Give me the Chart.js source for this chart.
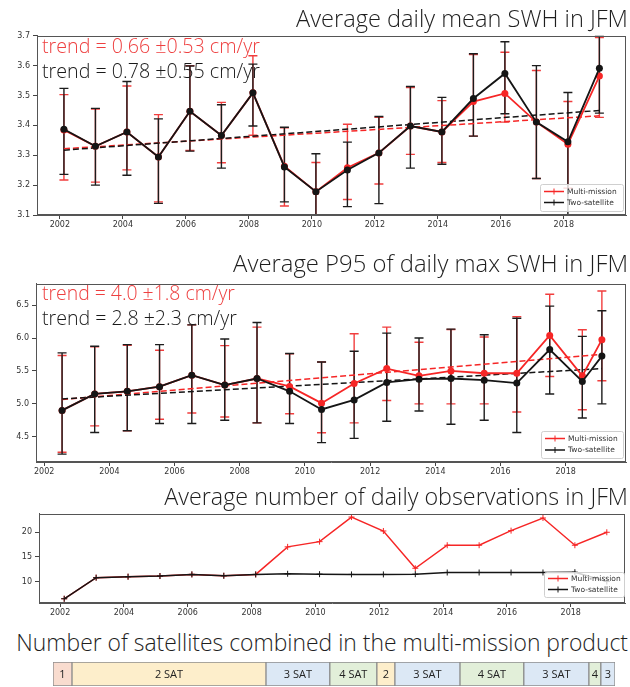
<!DOCTYPE html>
<html>
<head>
<meta charset="utf-8">
<script src="https://cdn.jsdelivr.net/npm/chart.js@4.4.1/dist/chart.umd.min.js"></script>
<style>
  html, body { margin: 0; padding: 0; background: #fff; }
  body { position: relative; width: 630px; height: 687px; overflow: hidden; }
  canvas { position: absolute; left: 0; }
  .txt { position: absolute; white-space: nowrap; line-height: 1; font-family: "Open Sans", sans-serif; font-weight: 300; }
</style>
</head>
<body>
<canvas id="swhChart" width="630" height="212" style="top:28px"></canvas>
<canvas id="p95Chart" width="630" height="205" style="top:276px"></canvas>
<canvas id="obsChart" width="630" height="112" style="top:506px"></canvas>
<canvas id="satChart" width="630" height="27" style="top:660px"></canvas>
<script>
// --- data: average daily mean SWH (m) ---
const swhYears = [2002.13, 2003.13, 2004.13, 2005.13, 2006.13, 2007.13, 2008.13, 2009.13, 2010.13, 2011.13, 2012.13, 2013.13, 2014.13, 2015.13, 2016.13, 2017.13, 2018.13, 2019.13];
const swhMulti   = [3.385, 3.330, 3.378, 3.294, 3.447, 3.366, 3.509, 3.263, 3.178, 3.258, 3.308, 3.398, 3.378, 3.480, 3.507, 3.411, 3.337, 3.565];
const swhMultiHi = [3.503, 3.455, 3.532, 3.436, 3.600, 3.477, 3.633, 3.392, 3.276, 3.404, 3.427, 3.527, 3.483, 3.637, 3.645, 3.584, 3.480, 3.694];
const swhMultiLo = [3.217, 3.210, 3.251, 3.144, 3.316, 3.275, 3.367, 3.130, 3.080, 3.152, 3.204, 3.303, 3.276, 3.364, 3.411, 3.222, 3.190, 3.427];
const swhTwo     = [3.387, 3.330, 3.378, 3.294, 3.447, 3.366, 3.509, 3.261, 3.178, 3.251, 3.308, 3.398, 3.378, 3.490, 3.574, 3.411, 3.345, 3.591];
const swhTwoHi   = [3.524, 3.457, 3.547, 3.422, 3.599, 3.469, 3.605, 3.394, 3.305, 3.344, 3.430, 3.530, 3.494, 3.640, 3.680, 3.600, 3.510, 3.700];
const swhTwoLo   = [3.236, 3.200, 3.233, 3.139, 3.314, 3.257, 3.398, 3.144, 3.050, 3.128, 3.138, 3.257, 3.270, 3.364, 3.439, 3.222, 3.080, 3.441];
const swhTrendX     = [2002.13, 2019.13];
const swhTrendMulti = [3.322, 3.432];
const swhTrendTwo   = [3.317, 3.450];
const swhYTicks = [3.1, 3.2, 3.3, 3.4, 3.5, 3.6, 3.7];

// --- data: average P95 of daily max SWH (m) ---
const p95Years = [2002.55, 2003.55, 2004.55, 2005.54, 2006.53, 2007.54, 2008.53, 2009.53, 2010.51, 2011.51, 2012.51, 2013.50, 2014.48, 2015.50, 2016.50, 2017.51, 2018.51, 2019.11];
const p95Multi   = [4.900, 5.150, 5.190, 5.260, 5.435, 5.285, 5.385, 5.265, 5.010, 5.310, 5.535, 5.425, 5.500, 5.465, 5.465, 6.040, 5.425, 5.975];
const p95MultiHi = [5.735, 5.865, 5.890, 5.815, 6.200, 5.885, 6.165, 5.760, 5.635, 6.065, 6.165, 5.935, 6.130, 6.015, 6.325, 6.665, 6.125, 6.715];
const p95MultiLo = [4.265, 4.665, 4.590, 4.765, 4.860, 4.800, 4.710, 4.850, 4.560, 4.710, 5.050, 5.000, 5.000, 5.000, 4.875, 5.415, 4.910, 5.350];
const p95Two     = [4.900, 5.150, 5.190, 5.260, 5.435, 5.285, 5.385, 5.190, 4.915, 5.060, 5.325, 5.375, 5.385, 5.360, 5.315, 5.825, 5.340, 5.725];
const p95TwoHi   = [5.775, 5.875, 5.900, 5.900, 6.200, 5.985, 6.235, 5.765, 5.635, 5.800, 6.075, 6.000, 6.135, 6.050, 6.300, 6.485, 6.025, 6.415];
const p95TwoLo   = [4.235, 4.565, 4.590, 4.700, 4.700, 4.750, 4.710, 4.700, 4.410, 4.475, 4.735, 4.890, 4.690, 4.750, 4.565, 5.150, 4.785, 5.000];
const p95TrendX     = [2002.55, 2019.11];
const p95TrendMulti = [5.065, 5.750];
const p95TrendTwo   = [5.075, 5.535];
const p95YTicks = [4.5, 5.0, 5.5, 6.0, 6.5];

// --- data: average number of daily observations ---
const obsYears = [2002.13, 2003.13, 2004.13, 2005.13, 2006.13, 2007.13, 2008.13, 2009.13, 2010.13, 2011.13, 2012.13, 2013.13, 2014.13, 2015.13, 2016.13, 2017.13, 2018.13, 2019.13];
const obsMulti = [6.51, 10.79, 10.99, 11.12, 11.45, 11.18, 11.45, 17.04, 18.10, 23.09, 20.26, 12.70, 17.37, 17.37, 20.33, 22.90, 17.37, 20.00];
const obsTwo   = [6.51, 10.79, 10.99, 11.12, 11.45, 11.18, 11.45, 11.58, 11.50, 11.45, 11.45, 11.50, 11.84, 11.84, 11.84, 11.84, 11.90, 10.00];
const obsYTicks = [10, 15, 20];

const yearTicks = [2002, 2004, 2006, 2008, 2010, 2012, 2014, 2016, 2018];

// --- data: satellites in the multi-mission product ---
const satLabels = ['1', '2 SAT', '3 SAT', '4 SAT', '2', '3 SAT', '4 SAT', '3 SAT', '4', '3'];
const satCount  = [1, 2, 3, 4, 2, 3, 4, 3, 4, 3];
const satStart  = [2002.00, 2002.59, 2008.61, 2010.59, 2012.05, 2012.61, 2014.63, 2016.61, 2018.63, 2019.00];
const satEnd    = [2002.59, 2008.61, 2010.59, 2012.05, 2012.61, 2014.63, 2016.61, 2018.63, 2019.00, 2019.44];

const RED = 'rgb(246,38,38)';
const BLACK = '#151515';
const satColors = { 1: '#f9dccf', 2: '#fdeecb', 3: '#dce8f5', 4: '#e2efd9' };

const xy = (xs, ys) => xs.map((x, i) => ({ x: x, y: ys[i] }));

function errorBars(sets) {
    return {
        id: 'errorBars',
        beforeDatasetsDraw(chart) {
            const { ctx, chartArea: a, scales: { x, y } } = chart;
            ctx.save();
            ctx.beginPath();
            ctx.rect(a.left, a.top, a.width, a.height);
            ctx.clip();
            sets.forEach(s => {
                ctx.strokeStyle = s.color;
                ctx.lineWidth = 1.4;
                s.xs.forEach((xv, i) => {
                    const px = x.getPixelForValue(xv);
                    const top = y.getPixelForValue(s.hi[i]);
                    const bot = y.getPixelForValue(s.lo[i]);
                    ctx.beginPath();
                    ctx.moveTo(px, top); ctx.lineTo(px, bot);
                    ctx.moveTo(px - 4.5, top); ctx.lineTo(px + 4.5, top);
                    ctx.moveTo(px - 4.5, bot); ctx.lineTo(px + 4.5, bot);
                    ctx.stroke();
                });
            });
            ctx.restore();
        }
    };
}

const frame = {
    id: 'frame',
    afterDatasetsDraw(chart) {
        const { ctx, chartArea: a } = chart;
        ctx.save();
        ctx.strokeStyle = '#555';
        ctx.lineWidth = 1;
        ctx.strokeRect(Math.round(a.left) + 0.5, Math.round(a.top) + 0.5, Math.round(a.width) - 1, Math.round(a.height) - 1);
        ctx.restore();
    }
};

function boxLegend(box) {
    const items = [{ label: 'Multi-mission', color: RED }, { label: 'Two-satellite', color: BLACK }];
    return {
        id: 'boxLegend',
        afterDatasetsDraw(chart) {
            const { ctx, chartArea: a } = chart;
            const x0 = Math.round(a.right - box.right - box.w), y0 = Math.round(a.bottom - box.bottom - box.h);
            ctx.save();
            ctx.fillStyle = 'rgba(255,255,255,0.8)';
            ctx.strokeStyle = '#cfcfcf';
            ctx.lineWidth = 1;
            ctx.beginPath();
            ctx.roundRect(x0 + 0.5, y0 + 0.5, box.w, box.h, 2);
            ctx.fill();
            ctx.stroke();
            items.forEach((it, i) => {
                const yy = y0 + box.rows[i];
                ctx.strokeStyle = it.color;
                ctx.lineWidth = 1.5;
                ctx.beginPath();
                ctx.moveTo(x0 + 4, yy); ctx.lineTo(x0 + 24, yy);
                ctx.stroke();
                ctx.lineWidth = 1;
                ctx.beginPath();
                ctx.moveTo(x0 + 14, yy - 3); ctx.lineTo(x0 + 14, yy + 3);
                ctx.stroke();
                ctx.fillStyle = '#333';
                ctx.font = '7.5px "DejaVu Sans"';
                ctx.textBaseline = 'middle';
                ctx.fillText(it.label, x0 + 27, yy + 0.5);
            });
            ctx.restore();
        }
    };
}

function axes(xMin, xMax, yMin, yMax, yTicks, yFmt, yWidth, xHeight) {
    const tickFont = { family: 'DejaVu Sans', size: 8 };
    return {
        x: {
            type: 'linear', min: xMin, max: xMax,
            afterBuildTicks: s => { s.ticks = yearTicks.map(v => ({ value: v })); },
            afterFit: s => { s.height = xHeight; },
            grid: { drawOnChartArea: false, drawTicks: true, tickLength: 4, color: '#444' },
            border: { color: '#555' },
            ticks: { font: tickFont, color: '#333', padding: 1, maxRotation: 0, autoSkip: false, callback: v => String(v) }
        },
        y: {
            type: 'linear', min: yMin, max: yMax,
            afterBuildTicks: s => { s.ticks = yTicks.map(v => ({ value: v })); },
            afterFit: s => { s.width = yWidth; },
            grid: { drawOnChartArea: false, drawTicks: true, tickLength: 4, color: '#444' },
            border: { color: '#555' },
            ticks: { font: tickFont, color: '#333', padding: 3, autoSkip: false, callback: yFmt }
        }
    };
}

function lineSet(xs, ys, color, order, opts) {
    return Object.assign({
        data: xy(xs, ys), borderColor: color, backgroundColor: color, borderWidth: 1.8,
        pointRadius: 3.5, pointBorderWidth: 0, pointBackgroundColor: color, order: order, tension: 0
    }, opts || {});
}

function trendSet(xs, ys, color, order) {
    return {
        data: xy(xs, ys), borderColor: color, borderWidth: 1.5, borderDash: [6, 3],
        pointRadius: 0, order: order
    };
}

const baseOptions = {
    responsive: false, animation: false,
    plugins: { legend: { display: false }, tooltip: { enabled: false } }
};

// --- Average daily mean SWH ---
new Chart(document.getElementById('swhChart'), {
    type: 'line',
    data: {
        datasets: [
            lineSet(swhYears, swhTwo, BLACK, 0),
            lineSet(swhYears, swhMulti, RED, 1),
            trendSet(swhTrendX, swhTrendTwo, BLACK, 2),
            trendSet(swhTrendX, swhTrendMulti, RED, 3)
        ]
    },
    options: Object.assign({}, baseOptions, {
        layout: { padding: { top: 6, right: 2, left: 0, bottom: 0 } },
        scales: axes(2001.275, 2019.975, 3.1, 3.7, swhYTicks, v => v.toFixed(1), 37, 25)
    }),
    plugins: [
        errorBars([
            { xs: swhYears, hi: swhMultiHi, lo: swhMultiLo, color: 'rgba(240,40,40,0.9)' },
            { xs: swhYears, hi: swhTwoHi, lo: swhTwoLo, color: '#1c1c1c' }
        ]),
        frame,
        boxLegend({ right: 3, bottom: 4, w: 83, h: 27, rows: [7.5, 18.5] })
    ]
});

// --- Average P95 of daily max SWH ---
new Chart(document.getElementById('p95Chart'), {
    type: 'line',
    data: {
        datasets: [
            lineSet(p95Years, p95Two, BLACK, 0),
            lineSet(p95Years, p95Multi, RED, 1),
            trendSet(p95TrendX, p95TrendTwo, BLACK, 2),
            trendSet(p95TrendX, p95TrendMulti, RED, 3)
        ]
    },
    options: Object.assign({}, baseOptions, {
        layout: { padding: { top: 6, right: 2, left: 0, bottom: 0 } },
        scales: axes(2001.75, 2019.85, 4.116, 6.824, p95YTicks, v => v.toFixed(1), 36, 19)
    }),
    plugins: [
        errorBars([
            { xs: p95Years, hi: p95MultiHi, lo: p95MultiLo, color: 'rgba(240,40,40,0.9)' },
            { xs: p95Years, hi: p95TwoHi, lo: p95TwoLo, color: '#1c1c1c' }
        ]),
        frame,
        boxLegend({ right: 3, bottom: 4, w: 82, h: 27, rows: [7.5, 19] })
    ]
});

// --- Average number of daily observations ---
new Chart(document.getElementById('obsChart'), {
    type: 'line',
    data: {
        datasets: [
            lineSet(obsYears, obsTwo, BLACK, 0, { borderWidth: 1.5, pointStyle: 'cross', pointRadius: 3, pointBorderWidth: 1, pointBorderColor: BLACK }),
            lineSet(obsYears, obsMulti, RED, 1, { borderWidth: 1.5, pointStyle: 'cross', pointRadius: 3, pointBorderWidth: 1, pointBorderColor: RED })
        ]
    },
    options: Object.assign({}, baseOptions, {
        layout: { padding: { top: 6, right: 2, left: 0, bottom: 0 } },
        scales: axes(2001.34, 2019.7, 5.65, 23.75, obsYTicks, v => String(v), 39, 15)
    }),
    plugins: [frame, boxLegend({ right: 1, bottom: 6, w: 80, h: 25, rows: [6.5, 17.5] })]
});

// --- Number of satellites bar ---
new Chart(document.getElementById('satChart'), {
    type: 'bar',
    data: {
        labels: ['sat'],
        datasets: [{
            data: satStart.map((s, i) => ({ x: [s, satEnd[i]], y: 'sat' })),
            backgroundColor: satCount.map(c => satColors[c]),
            borderColor: '#8c8c8c', borderWidth: 1, borderSkipped: false,
            barPercentage: 1, categoryPercentage: 1, grouped: false
        }]
    },
    options: Object.assign({}, baseOptions, {
        indexAxis: 'y',
        layout: { padding: { top: 2, right: 15, left: 53, bottom: 1 } },
        scales: {
            x: { type: 'linear', min: 2002, max: 2019.44, display: false },
            y: { display: false }
        }
    }),
    plugins: [{
        id: 'satText',
        afterDatasetsDraw(chart) {
            const { ctx, scales: { x, y } } = chart;
            const cy = y.getPixelForValue(0);
            ctx.save();
            ctx.font = '11px "Open Sans"';
            ctx.fillStyle = '#222';
            ctx.textAlign = 'center';
            ctx.textBaseline = 'middle';
            satLabels.forEach((t, i) => {
                ctx.fillText(t, (x.getPixelForValue(satStart[i]) + x.getPixelForValue(satEnd[i])) / 2, cy + 0.5);
            });
            ctx.restore();
        }
    }]
});

// --- titles and trend notes ---
function placeText(text, o) {
    const el = document.createElement('div');
    el.className = 'txt';
    el.textContent = text;
    el.style.color = o.color || '#1e1e1e';
    el.style.fontSize = '20px';
    document.body.appendChild(el);
    const fs = 20 * o.width / el.getBoundingClientRect().width;
    el.style.fontSize = fs.toFixed(2) + 'px';
    const probe = document.createElement('span');
    probe.style.cssText = 'display:inline-block;width:0;height:0;vertical-align:baseline';
    el.appendChild(probe);
    const w = el.getBoundingClientRect().width;
    el.style.left = (o.align === 'right' ? o.x - w : o.x) + 'px';
    el.style.top = (o.baseline - probe.offsetTop) + 'px';
}

placeText('Average daily mean SWH in JFM', { x: 628, align: 'right', baseline: 27, width: 332 });
placeText('Average P95 of daily max SWH in JFM', { x: 628, align: 'right', baseline: 271.5, width: 395 });
placeText('Average number of daily observations in JFM', { x: 628, align: 'right', baseline: 505, width: 464 });
placeText('Number of satellites combined in the multi-mission product', { x: 628, align: 'right', baseline: 651, width: 612 });

placeText('trend = 0.66 \u00b10.53 cm/yr', { x: 42, baseline: 52.5, width: 218, color: '#ee4040' });
placeText('trend = 0.78 \u00b10.55 cm/yr', { x: 42, baseline: 78, width: 218, color: '#1a1a1a' });
placeText('trend = 4.0 \u00b11.8 cm/yr', { x: 42, baseline: 300, width: 193, color: '#ee4040' });
placeText('trend = 2.8 \u00b12.3 cm/yr', { x: 42, baseline: 325, width: 195, color: '#1a1a1a' });
</script>
</body>
</html>
